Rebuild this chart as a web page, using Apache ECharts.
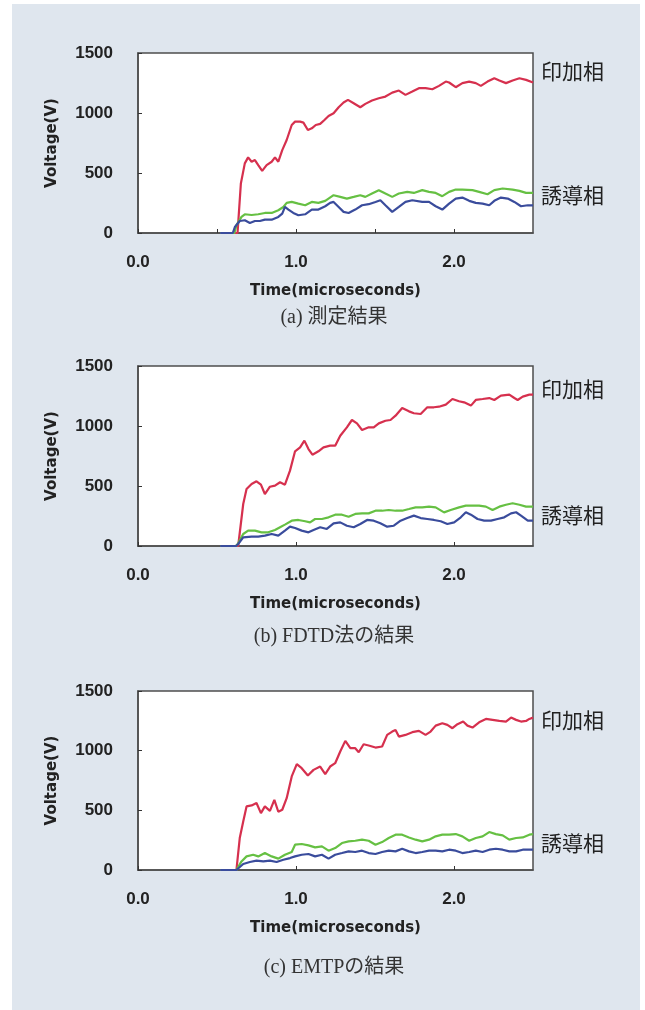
<!DOCTYPE html>
<html>
<head>
<meta charset="utf-8">
<script src="https://cdn.jsdelivr.net/npm/echarts@6/dist/echarts.min.js"></script>
<style>
  html, body { margin: 0; padding: 0; background: #fff; }
  #panel { position: absolute; left: 12px; top: 4px; width: 628px; height: 1006px; background: #dfe6ee; }
  #main { position: absolute; left: 0; top: 0; width: 645px; height: 1010px; }
</style>
</head>
<body>
<div id="panel"></div>
<div id="main"></div>
<script>
// tick labels
var yTicks = [0, 500, 1000, 1500];
var xLabels = ['0.0', '1.0', '2.0'];
var captions = ['(a) 測定結果', '(b) FDTD法の結果', '(c) EMTPの結果'];
var phaseNames = ['印加相', '誘導相'];

// (a) measured  [time(us), voltage(V)]
var measRed = [[0.52,0],[0.63,0],[0.651,412],[0.676,580],[0.697,630],[0.719,594],[0.74,608],[0.761,566],[0.786,518],[0.814,566],[0.846,594],[0.867,630],[0.888,594],[0.913,691],[0.941,775],[0.973,900],[0.994,928],[1.026,928],[1.047,920],[1.075,858],[1.1,872],[1.125,900],[1.153,909],[1.18,942],[1.206,975],[1.238,998],[1.27,1048],[1.301,1087],[1.329,1109],[1.365,1081],[1.407,1048],[1.439,1076],[1.481,1104],[1.524,1123],[1.566,1137],[1.609,1170],[1.651,1187],[1.693,1151],[1.736,1179],[1.778,1207],[1.82,1207],[1.863,1198],[1.905,1226],[1.948,1262],[1.969,1254],[2.011,1215],[2.053,1249],[2.096,1262],[2.138,1249],[2.17,1226],[2.212,1262],[2.255,1290],[2.287,1271],[2.329,1249],[2.371,1271],[2.414,1290],[2.456,1276],[2.5,1254]];
var measGreen = [[0.52,0],[0.61,0],[0.623,64],[0.655,134],[0.676,156],[0.719,150],[0.761,156],[0.803,167],[0.846,167],[0.888,190],[0.92,217],[0.941,251],[0.973,259],[1.015,245],[1.058,231],[1.1,259],[1.142,251],[1.185,268],[1.238,315],[1.28,301],[1.322,287],[1.365,301],[1.407,315],[1.439,301],[1.481,329],[1.524,357],[1.566,329],[1.609,301],[1.651,329],[1.704,343],[1.746,334],[1.799,357],[1.842,343],[1.884,334],[1.926,307],[1.969,343],[2.011,362],[2.053,362],[2.117,357],[2.159,343],[2.212,323],[2.255,357],[2.308,371],[2.371,362],[2.414,351],[2.456,334],[2.5,334]];
var measBlue = [[0.52,0],[0.6,0],[0.613,50],[0.644,100],[0.676,106],[0.708,84],[0.74,100],[0.771,100],[0.803,111],[0.846,111],[0.888,134],[0.913,162],[0.93,217],[0.952,195],[0.983,167],[1.015,148],[1.058,156],[1.1,195],[1.142,195],[1.185,223],[1.216,251],[1.238,259],[1.27,217],[1.301,176],[1.333,167],[1.375,195],[1.418,231],[1.46,240],[1.503,259],[1.534,273],[1.566,231],[1.609,176],[1.651,217],[1.693,259],[1.736,273],[1.799,259],[1.842,259],[1.884,223],[1.926,195],[1.969,245],[2.011,287],[2.053,295],[2.096,268],[2.138,251],[2.181,245],[2.223,231],[2.255,268],[2.297,295],[2.34,287],[2.382,259],[2.424,223],[2.467,231],[2.5,231]];

// (b) FDTD
var fdtdRed = [[0.52,0],[0.634,0],[0.666,350],[0.687,475],[0.719,517],[0.75,539],[0.778,511],[0.803,433],[0.835,494],[0.867,503],[0.899,531],[0.93,511],[0.962,628],[0.994,789],[1.026,822],[1.053,878],[1.079,808],[1.104,761],[1.142,789],[1.174,822],[1.216,836],[1.248,836],[1.28,919],[1.322,989],[1.354,1050],[1.386,1022],[1.418,967],[1.46,989],[1.492,989],[1.524,1022],[1.566,1044],[1.598,1050],[1.63,1086],[1.672,1150],[1.715,1122],[1.746,1106],[1.789,1100],[1.831,1156],[1.873,1156],[1.905,1161],[1.948,1178],[1.99,1225],[2.032,1206],[2.064,1197],[2.107,1170],[2.138,1217],[2.181,1225],[2.223,1233],[2.255,1217],[2.297,1253],[2.35,1261],[2.382,1233],[2.403,1217],[2.435,1245],[2.477,1261],[2.5,1261]];
var fdtdGreen = [[0.52,0],[0.62,0],[0.634,22],[0.666,100],[0.697,128],[0.74,128],[0.782,114],[0.824,114],[0.867,133],[0.899,156],[0.93,178],[0.973,211],[1.015,217],[1.058,206],[1.089,197],[1.121,225],[1.164,225],[1.206,239],[1.248,261],[1.291,261],[1.333,244],[1.375,267],[1.418,272],[1.46,272],[1.503,294],[1.545,294],[1.587,300],[1.63,294],[1.672,294],[1.715,308],[1.757,322],[1.799,322],[1.842,328],[1.884,322],[1.937,280],[1.979,300],[2.032,322],[2.075,336],[2.117,336],[2.159,336],[2.202,328],[2.244,300],[2.287,328],[2.329,344],[2.371,356],[2.414,344],[2.456,328],[2.5,328]];
var fdtdBlue = [[0.52,0],[0.62,0],[0.634,17],[0.666,72],[0.719,78],[0.761,78],[0.803,86],[0.846,100],[0.888,86],[0.93,128],[0.962,161],[0.994,150],[1.036,128],[1.079,114],[1.111,133],[1.153,156],[1.195,142],[1.238,189],[1.28,197],[1.322,169],[1.365,156],[1.407,183],[1.45,217],[1.492,211],[1.534,189],[1.577,161],[1.619,169],[1.662,211],[1.704,233],[1.746,253],[1.789,233],[1.831,225],[1.873,217],[1.916,206],[1.958,183],[2.001,197],[2.043,239],[2.075,281],[2.107,261],[2.149,225],[2.191,211],[2.234,211],[2.276,225],[2.318,239],[2.361,272],[2.393,281],[2.424,253],[2.467,211],[2.5,211]];

// (c) EMTP
var emtpRed = [[0.52,0],[0.623,0],[0.644,268],[0.666,407],[0.687,533],[0.719,541],[0.75,561],[0.778,477],[0.803,533],[0.835,496],[0.863,588],[0.888,488],[0.913,505],[0.941,602],[0.973,784],[1.005,887],[1.036,853],[1.075,792],[1.111,839],[1.153,867],[1.185,803],[1.216,867],[1.248,895],[1.28,993],[1.312,1082],[1.344,1021],[1.375,1021],[1.397,987],[1.428,1054],[1.46,1043],[1.503,1026],[1.545,1035],[1.577,1132],[1.609,1160],[1.63,1174],[1.651,1118],[1.693,1132],[1.736,1155],[1.778,1166],[1.82,1132],[1.852,1160],[1.884,1210],[1.926,1230],[1.958,1216],[1.99,1188],[2.022,1222],[2.058,1244],[2.085,1210],[2.117,1194],[2.159,1238],[2.202,1266],[2.244,1258],[2.287,1249],[2.329,1244],[2.361,1277],[2.393,1258],[2.424,1244],[2.456,1249],[2.477,1266],[2.5,1277]];
var emtpGreen = [[0.52,0],[0.623,0],[0.655,72],[0.687,114],[0.729,128],[0.761,114],[0.803,142],[0.846,114],[0.888,95],[0.93,128],[0.973,151],[0.994,212],[1.036,218],[1.079,206],[1.121,190],[1.164,198],[1.206,162],[1.248,184],[1.291,226],[1.333,240],[1.375,245],[1.418,254],[1.46,245],[1.503,212],[1.545,234],[1.587,268],[1.63,296],[1.672,296],[1.715,273],[1.757,254],[1.799,240],[1.842,254],[1.884,282],[1.926,296],[1.969,296],[2.011,301],[2.053,282],[2.096,245],[2.138,268],[2.181,282],[2.223,318],[2.265,301],[2.308,290],[2.35,254],[2.393,268],[2.435,273],[2.477,296],[2.5,301]];
var emtpBlue = [[0.52,0],[0.623,0],[0.666,50],[0.708,67],[0.75,78],[0.793,72],[0.835,78],[0.877,67],[0.92,86],[0.962,100],[0.994,114],[1.036,128],[1.079,134],[1.121,114],[1.164,128],[1.206,95],[1.248,128],[1.291,142],[1.333,156],[1.375,151],[1.418,162],[1.46,142],[1.503,134],[1.545,151],[1.587,162],[1.63,156],[1.672,178],[1.715,156],[1.757,142],[1.799,151],[1.842,162],[1.884,162],[1.926,156],[1.969,170],[2.011,162],[2.053,142],[2.096,151],[2.138,162],[2.181,151],[2.223,170],[2.265,178],[2.308,170],[2.35,156],[2.393,156],[2.435,170],[2.477,170],[2.5,170]];

var panels = [
  { top: 53, height: 180, red: measRed, green: measGreen, blue: measBlue, xStep: 0.5, labTop: 71, labBot: 195 },
  { top: 366, height: 180, red: fdtdRed, green: fdtdGreen, blue: fdtdBlue, xStep: 1, labTop: 389, labBot: 515 },
  { top: 691, height: 179, red: emtpRed, green: emtpGreen, blue: emtpBlue, xStep: 1, labTop: 720, labBot: 843 }
];

var numFont = 'Liberation Sans, Arial, sans-serif';
var nameFont = 'DejaVu Sans, sans-serif';
var colors = ['#d6304e', '#66c043', '#3a4c9c'];

var grids = [], xAxes = [], yAxes = [], series = [], graphics = [];

panels.forEach(function (p, i) {
  grids.push({
    left: 138, top: p.top, width: 395, height: p.height,
    show: true, backgroundColor: '#fff', borderColor: '#4d4d4d', borderWidth: 1.5
  });
  xAxes.push({
    gridIndex: i, type: 'value', min: 0, max: 2.5, interval: p.xStep,
    name: 'Time(microseconds)', nameLocation: 'middle', nameGap: 51,
    nameTextStyle: { fontFamily: nameFont, fontWeight: 'bold', fontSize: 15, color: '#222' },
    axisLine: { lineStyle: { color: '#4d4d4d', width: 1.5 } },
    axisTick: { inside: true, length: 4, lineStyle: { color: '#333' } },
    splitLine: { show: false },
    axisLabel: {
      margin: 21, showMaxLabel: false,
      fontFamily: numFont, fontWeight: 'bold', fontSize: 17, color: '#222',
      formatter: function (v) {
        var s = v.toFixed(1);
        return xLabels.indexOf(s) >= 0 ? s : '';
      }
    }
  });
  yAxes.push({
    gridIndex: i, type: 'value', min: yTicks[0], max: yTicks[yTicks.length - 1], interval: yTicks[1] - yTicks[0],
    name: 'Voltage(V)', nameLocation: 'middle', nameGap: 78,
    nameTextStyle: { fontFamily: nameFont, fontWeight: 'bold', fontSize: 15, color: '#222' },
    axisLine: { show: true, lineStyle: { color: '#4d4d4d', width: 1.5 } },
    axisTick: { show: true, inside: true, length: 4, lineStyle: { color: '#333' } },
    splitLine: { show: false },
    axisLabel: {
      margin: 25, fontFamily: numFont, fontWeight: 'bold', fontSize: 17, color: '#222',
      formatter: function (v) { return String(v); }
    }
  });
  [p.red, p.green, p.blue].forEach(function (d, k) {
    series.push({
      type: 'line', xAxisIndex: i, yAxisIndex: i, data: d,
      showSymbol: false, smooth: false, animation: false,
      lineStyle: { color: colors[k], width: 2.2 }
    });
  });
  graphics.push({
    type: 'text', x: 541, y: p.labTop,
    style: { text: phaseNames[0], font: '21px "Noto Sans CJK JP"', fill: '#222', textVerticalAlign: 'middle' }
  });
  graphics.push({
    type: 'text', x: 541, y: p.labBot,
    style: { text: phaseNames[1], font: '21px "Noto Sans CJK JP"', fill: '#222', textVerticalAlign: 'middle' }
  });
});

var capY = [318, 637, 968];
captions.forEach(function (c, i) {
  graphics.push({
    type: 'text', x: 334, y: capY[i],
    style: { text: c, font: '20px "Liberation Serif", "Noto Sans CJK JP", serif', fill: '#333', textAlign: 'center', textVerticalAlign: 'middle' }
  });
});

var chart = echarts.init(document.getElementById('main'));
chart.setOption({
  animation: false,
  grid: grids,
  xAxis: xAxes,
  yAxis: yAxes,
  series: series,
  graphic: graphics
});
</script>
</body>
</html>
